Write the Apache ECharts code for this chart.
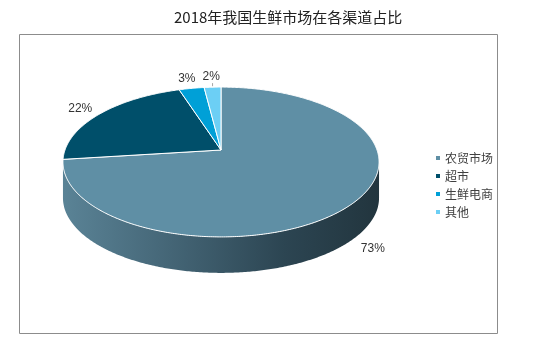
<!DOCTYPE html>
<html>
<head>
<meta charset="utf-8">
<script src="https://cdn.jsdelivr.net/npm/echarts@6/dist/echarts.min.js"></script>
<style>
  html, body { margin: 0; padding: 0; background: #fff; }
  #chart { width: 534px; height: 353px; }
</style>
</head>
<body>
<div id="chart"></div>
<script>
// data
const channels = ['农贸市场', '超市', '生鲜电商', '其他']
const shares = [73, 22, 3, 2]
const topColors = ['#5f8fa5', '#004f6a', '#00a0d7', '#6ccff5']
const sideColors = ['#3f6070', '#00303f', '#006a90', '#3c8fb0']

// fake 3d pie geometry (perspective tilt)
const cx = 221, cy = 150, R = 156, Ry = 73, k = 0.16, depth = 36
const total = shares.reduce((a, b) => a + b, 0)
const startAngles = []
let acc = 0
shares.forEach(v => { startAngles.push(acc / total * Math.PI * 2); acc += v })

function pt(theta, f, dy) {
  const s = 1 / (1 + k * Math.cos(theta))
  return [cx + R * f * Math.sin(theta) * s, cy - Ry * f * Math.cos(theta) * s + (dy || 0)]
}
function arc(a, b, dy) {
  const pts = []
  const n = Math.max(2, Math.ceil((b - a) / 0.01))
  for (let i = 0; i <= n; i++) pts.push(pt(a + (b - a) * i / n, 1, dy))
  return pts
}

const sideFill = new echarts.graphic.LinearGradient(0, 0, 1, 0, [
  { offset: 0, color: '#5a8396' },
  { offset: 0.3, color: '#47697a' },
  { offset: 0.7, color: '#2c4552' },
  { offset: 1, color: '#22353e' }
])

function renderSide(params) {
  const i = params.dataIndex
  const a = startAngles[i]
  const b = a + shares[i] / total * Math.PI * 2
  const lo = Math.max(a, Math.acos(-k))
  const hi = Math.min(b, Math.PI * 2 - Math.acos(-k))
  if (hi <= lo) return { type: 'group', children: [] }
  const points = arc(lo, hi, 0).concat(arc(lo, hi, depth).reverse())
  return {
    type: 'polygon',
    shape: { points },
    style: { fill: i === 0 ? sideFill : sideColors[i], stroke: null }
  }
}

function renderTop(params) {
  const i = params.dataIndex
  const a = startAngles[i]
  const b = a + shares[i] / total * Math.PI * 2
  const mid = (a + b) / 2
  const points = [[cx, cy]].concat(arc(a, b, 0))
  const front = Math.cos(mid) < 0
  const lp = pt(mid, 1.16, front ? depth : 0)
  const children = [{
    type: 'polygon',
    shape: { points },
    style: { fill: topColors[i], stroke: '#ffffff', lineWidth: 1 }
  }, {
    type: 'text',
    style: {
      text: shares[i] + '%', x: lp[0], y: lp[1],
      align: 'center', verticalAlign: 'middle',
      fontSize: 12, fontFamily: 'Liberation Sans, Arial, sans-serif', fill: '#333'
    }
  }]
  if (shares[i] < 3) {
    const e = pt(mid, 1.0, 0)
    children.push({
      type: 'line',
      shape: { x1: e[0], y1: e[1] - 1, x2: e[0], y2: lp[1] + 6 },
      style: { stroke: '#a6a6a6', lineWidth: 1 }
    })
  }
  return { type: 'group', children }
}

const chart = echarts.init(document.getElementById('chart'))
chart.setOption({
  animation: false,
  title: {
    text: '2018年我国生鲜市场在各渠道占比',
    left: 169,
    top: 5,
    textStyle: { fontSize: 15, fontWeight: 'normal', color: '#222', fontFamily: 'Noto Sans CJK SC' }
  },
  legend: {
    orient: 'vertical',
    left: 431,
    top: 147,
    icon: 'rect',
    itemWidth: 4,
    itemHeight: 4,
    itemGap: 6,
    data: channels,
    textStyle: { fontSize: 12, color: '#404040', fontFamily: 'Noto Sans CJK SC' }
  },
  graphic: [{
    type: 'rect',
    shape: { x: 19.5, y: 34.5, width: 478, height: 299 },
    style: { fill: null, stroke: '#8c8c8c', lineWidth: 1 },
    z: -1
  }],
  series: [
    {
      // only feeds the legend
      type: 'pie',
      radius: [0, 0],
      silent: true,
      label: { show: false },
      labelLine: { show: false },
      data: channels.map((n, i) => ({ name: n, value: shares[i], itemStyle: { color: topColors[i] } }))
    },
    { type: 'custom', coordinateSystem: 'none', renderItem: renderSide, data: shares, z: 1, silent: true },
    { type: 'custom', coordinateSystem: 'none', renderItem: renderTop, data: shares, z: 2, silent: true }
  ]
})
</script>
</body>
</html>
